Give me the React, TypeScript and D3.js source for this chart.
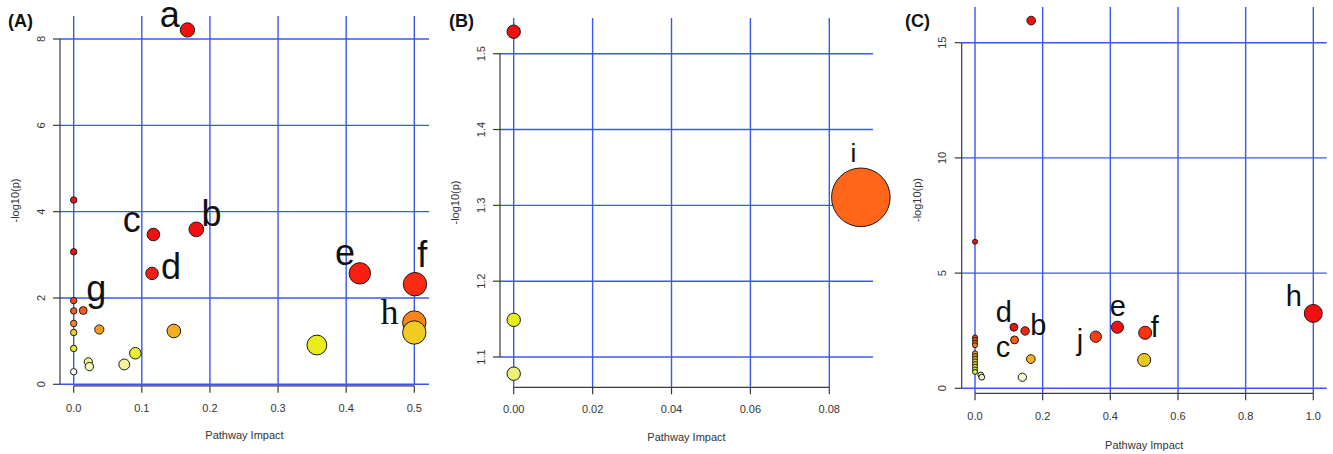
import React from "react";
import * as d3 from "d3";

// ---------- DATA ----------
// Panel A
const aImpact = [0.167, 0.18, 0.117, 0.115, 0.42, 0.501, 0.5, 0.5, 0.357, 0.147, 0.0905, 0.0743, 0.0215, 0.023, 0.0376, 0.014, 0, 0, 0, 0, 0, 0, 0, 0];
const aLogP = [8.21, 3.59, 3.47, 2.57, 2.57, 2.32, 1.43, 1.2, 0.91, 1.235, 0.72, 0.46, 0.52, 0.41, 1.27, 1.71, 4.27, 3.07, 1.94, 1.7, 1.41, 1.2, 0.83, 0.29];
const aXTicks = [0, 0.1, 0.2, 0.3, 0.4, 0.5];
const aYTicks = [0, 2, 4, 6, 8];
const aLabels = ["a", "b", "c", "d", "e", "f", "h", "g"];
const aLabelPoint = [0, 1, 2, 3, 4, 5, 6, 15];

// Panel B
const bImpact = [0, 0.088, 0, 0];
const bLogP = [1.529, 1.3106, 1.149, 1.078];
const bXTicks = [0, 0.02, 0.04, 0.06, 0.08];
const bYTicks = [1.1, 1.2, 1.3, 1.4, 1.5];
const bLabels = ["i"];
const bLabelPoint = [1];

// Panel C
const cImpact = [0.166, 0, 1.0, 0.421, 0.503, 0.357, 0.5, 0.115, 0.148, 0.117, 0.165, 0.14, 0.017, 0.02, 0, 0, 0, 0, 0, 0, 0, 0, 0, 0, 0, 0];
const cLogP = [15.96, 6.36, 3.25, 2.65, 2.41, 2.24, 1.23, 2.65, 2.49, 2.1, 1.27, 0.48, 0.58, 0.48, 2.21, 2.1, 1.98, 1.87, 1.52, 1.4, 1.29, 1.17, 1.05, 0.94, 0.82, 0.71];
const cXTicks = [0, 0.2, 0.4, 0.6, 0.8, 1.0];
const cYTicks = [0, 5, 10, 15];
const cLabels = ["h", "d", "b", "c", "j", "e", "f"];
const cLabelPoint = [2, 7, 8, 9, 5, 3, 4];

// ---------- STYLE / LAYOUT ----------
const GRID = "#3b57f2";
const AXIS = "#3a3a3a";
const TXT = "#333";
const FONT = "'Liberation Sans', Arial, Helvetica, sans-serif";

type Panel = {
  tag: string;
  impact: number[];
  logp: number[];
  xTicks: number[];
  yTicks: number[];
  xFmt: string;
  yFmt: string;
  xDomain: [number, number];
  yDomain: [number, number];
  xRange: [number, number];
  yRange: [number, number];
  plotLeft: number;
  plotRight: number;
  plotTop: number;
  plotBottom: number;
  yAxisX: number;
  xAxisY: number;
  yTickLabelX: number;
  xTickLabelY: number;
  xTitleY: number;
  yTitleX: number;
  tagX: number;
  sizeDomain: [number, number];
  sizeRange: [number, number];
  colorDomain: number[];
  colorRange: string[];
  labels: string[];
  labelPoint: number[];
  labelOffset: [number, number][];
  labelSize: number;
  labelSerif?: string[];
};

const panels: Panel[] = [
  {
    tag: "(A)",
    impact: aImpact,
    logp: aLogP,
    xTicks: aXTicks,
    yTicks: aYTicks,
    xFmt: ".1f",
    yFmt: "d",
    xDomain: [0, 0.5],
    yDomain: [0, 8],
    xRange: [73.7, 414.3],
    yRange: [384.3, 39],
    plotLeft: 60,
    plotRight: 429,
    plotTop: 16,
    plotBottom: 385,
    yAxisX: 60,
    xAxisY: 385.8,
    yTickLabelX: 40.7,
    xTickLabelY: 407.5,
    xTitleY: 435,
    yTitleX: 15,
    tagX: 8,
    sizeDomain: [0, 0.5],
    sizeRange: [3.2, 11.7],
    colorDomain: [0.29, 0.45, 0.75, 0.95, 1.2, 1.24, 1.3, 1.45, 1.72, 2.0, 2.45, 3.0],
    colorRange: ["#fdfdf3", "#f3f3a0", "#e9ef22", "#eaec1a", "#f0cc20", "#f4a821", "#f78c1c", "#fb8418", "#ff5a14", "#ff3a12", "#fa2410", "#f20f0f"],
    labels: aLabels,
    labelPoint: aLabelPoint,
    labelOffset: [[-17.7, -3], [15.3, -3], [-21.7, -2.6], [19, 6], [-14.7, -8.3], [7.3, -17.3], [-24.7, 1.3], [13, -9]],
    labelSize: 36,
    labelSerif: ["h"],
  },
  {
    tag: "(B)",
    impact: bImpact,
    logp: bLogP,
    xTicks: bXTicks,
    yTicks: bYTicks,
    xFmt: ".2f",
    yFmt: ".1f",
    xDomain: [0, 0.08],
    yDomain: [1.1, 1.5],
    xRange: [513.7, 829.3],
    yRange: [357, 53.7],
    plotLeft: 500,
    plotRight: 873,
    plotTop: 18,
    plotBottom: 387,
    yAxisX: 500,
    xAxisY: 387.3,
    yTickLabelX: 480.7,
    xTickLabelY: 409.3,
    xTitleY: 437,
    yTitleX: 455,
    tagX: 449,
    sizeDomain: [0, 0.088],
    sizeRange: [6.7, 29.3],
    colorDomain: [1.078, 1.149, 1.31, 1.529],
    colorRange: ["#eef07a", "#e6f020", "#ff661a", "#ee1010"],
    labels: bLabels,
    labelPoint: bLabelPoint,
    labelOffset: [[-7.4, -35.6]],
    labelSize: 26,
  },
  {
    tag: "(C)",
    impact: cImpact,
    logp: cLogP,
    xTicks: cXTicks,
    yTicks: cYTicks,
    xFmt: ".1f",
    yFmt: "d",
    xDomain: [0, 1],
    yDomain: [0, 15],
    xRange: [975, 1313.3],
    yRange: [388.3, 42.7],
    plotLeft: 961.7,
    plotRight: 1326.7,
    plotTop: 7,
    plotBottom: 393,
    yAxisX: 961.7,
    xAxisY: 393.3,
    yTickLabelX: 941.7,
    xTickLabelY: 416,
    xTitleY: 445,
    yTitleX: 916.7,
    tagX: 905,
    sizeDomain: [0, 1],
    sizeRange: [2.5, 9],
    colorDomain: [0.48, 0.58, 0.71, 0.82, 0.94, 1.05, 1.17, 1.23, 1.29, 1.52, 1.87, 2.1, 2.24, 2.41, 2.6],
    colorRange: ["#f6f6cc", "#f0f0b0", "#d8ec40", "#dcee30", "#e4ec20", "#eaea1e", "#eed81e", "#efc81e", "#f5a41e", "#ff9a1c", "#ff7818", "#ff5a14", "#ff3c12", "#ff3010", "#f20f0f"],
    labels: cLabels,
    labelPoint: cLabelPoint,
    labelOffset: [[-19.6, -7.3], [-10, -5.6], [13.3, 4], [-11.7, 16.7], [-15.7, 13.3], [0.4, -11.3], [9.7, 4.6]],
    labelSize: 29,
  },
];

function PanelView({ p }: { p: Panel }) {
  const x = d3.scaleLinear().domain(p.xDomain).range(p.xRange);
  const y = d3.scaleLinear().domain(p.yDomain).range(p.yRange);
  const r = d3.scalePow().exponent(0.7).domain(p.sizeDomain).range(p.sizeRange).clamp(true);
  const color = d3.scaleLinear<string>().domain(p.colorDomain).range(p.colorRange).clamp(true);
  const fx = d3.format(p.xFmt);
  const fy = d3.format(p.yFmt);
  const xAxisStart = x(p.xTicks[0]);
  const xAxisEnd = x(p.xTicks[p.xTicks.length - 1]);
  const yAxisStart = y(p.yTicks[0]);
  const yAxisEnd = y(p.yTicks[p.yTicks.length - 1]);
  const midX = (p.plotLeft + p.plotRight) / 2;
  const midY = (p.plotTop + p.plotBottom) / 2;
  return (
    <g>
      {/* grid */}
      {p.xTicks.map((t, i) => (
        <line key={"vx" + i} x1={x(t)} x2={x(t)} y1={p.plotTop} y2={p.plotBottom} stroke={GRID} strokeWidth={1.4} />
      ))}
      {p.yTicks.map((t, i) => (
        <line key={"hy" + i} x1={p.plotLeft} x2={p.plotRight} y1={y(t)} y2={y(t)} stroke={GRID} strokeWidth={1.4} />
      ))}
      {/* axes */}
      <line x1={p.yAxisX} x2={p.yAxisX} y1={yAxisStart} y2={yAxisEnd} stroke={AXIS} strokeWidth={1.2} />
      {p.yTicks.map((t, i) => (
        <line key={"yt" + i} x1={p.yAxisX - 7} x2={p.yAxisX} y1={y(t)} y2={y(t)} stroke={AXIS} strokeWidth={1.2} />
      ))}
      <line x1={xAxisStart} x2={xAxisEnd} y1={p.xAxisY} y2={p.xAxisY} stroke={AXIS} strokeWidth={1.2} />
      {p.xTicks.map((t, i) => (
        <line key={"xt" + i} x1={x(t)} x2={x(t)} y1={p.xAxisY} y2={p.xAxisY + 7} stroke={AXIS} strokeWidth={1.2} />
      ))}
      {p.xTicks.map((t, i) => (
        <text key={"xl" + i} x={x(t)} y={p.xTickLabelY} textAnchor="middle" dominantBaseline="central" fontSize={11} fill={TXT} fontFamily={FONT}>
          {fx(t)}
        </text>
      ))}
      {p.yTicks.map((t, i) => (
        <text key={"yl" + i} transform={`translate(${p.yTickLabelX},${y(t)}) rotate(-90)`} textAnchor="middle" dominantBaseline="central" fontSize={11} fill={TXT} fontFamily={FONT}>
          {fy(t)}
        </text>
      ))}
      <text x={midX} y={p.xTitleY} textAnchor="middle" dominantBaseline="central" fontSize={11} fill={TXT} fontFamily={FONT}>
        Pathway Impact
      </text>
      <text transform={`translate(${p.yTitleX},${midY}) rotate(-90)`} textAnchor="middle" dominantBaseline="central" fontSize={11} fill={TXT} fontFamily={FONT}>
        -log10(p)
      </text>
      {/* points */}
      {p.impact.map((v, i) => (
        <circle key={"pt" + i} cx={x(v)} cy={y(p.logp[i])} r={r(v)} fill={color(p.logp[i])} stroke="#1a1a1a" strokeWidth={1} />
      ))}
      {/* letters */}
      {p.labels.map((lab, k) => {
        const idx = p.labelPoint[k];
        const [dx, dy] = p.labelOffset[k];
        const serif = p.labelSerif && p.labelSerif.includes(lab);
        return (
          <text key={"lb" + k} x={x(p.impact[idx]) + dx} y={y(p.logp[idx]) + dy} textAnchor="middle" fontSize={p.labelSize} fill="#111" fontFamily={serif ? "'Liberation Serif', 'Times New Roman', serif" : FONT}>
            {lab}
          </text>
        );
      })}
      <text x={p.tagX} y={27} fontSize={18} fontWeight="bold" fill="#111" fontFamily={FONT}>
        {p.tag}
      </text>
    </g>
  );
}

export default function App() {
  return (
    <svg width={1333} height={454} style={{ position: "absolute", left: 0, top: 0, background: "#fff" }}>
      <rect x={0} y={0} width={1333} height={454} fill="#fff" />
      {panels.map((p) => (
        <PanelView key={p.tag} p={p} />
      ))}
    </svg>
  );
}
